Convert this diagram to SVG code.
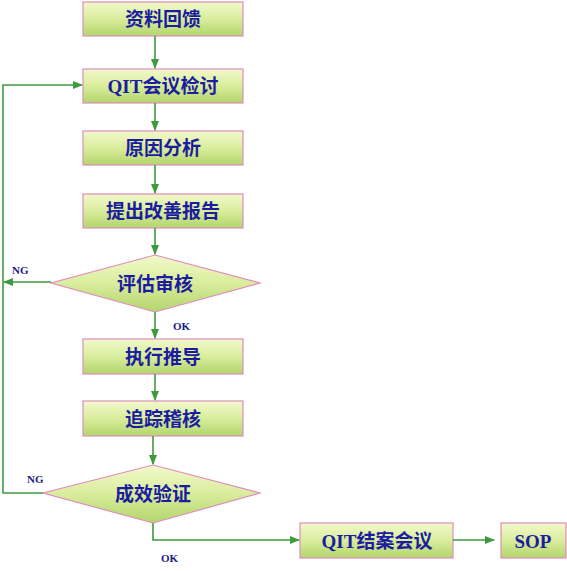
<svg xmlns="http://www.w3.org/2000/svg" width="567" height="571" viewBox="0 0 567 571">
<style>
.box{fill:url(#g);stroke:#e08cbc;stroke-width:1.2}
.t{font-family:"Liberation Serif","Noto Sans CJK SC",serif;font-size:19px;font-weight:bold;fill:#1c1ca0;text-anchor:middle}
.l{font-family:"Liberation Serif",serif;font-size:11px;font-weight:bold;fill:#1c1c80}
.c{fill:none;stroke:#3f9a3f;stroke-width:1.6}
</style>
<defs>
<linearGradient id="g" x1="0" y1="0" x2="0" y2="1">
<stop offset="0" stop-color="#f2f9cc"/>
<stop offset="0.5" stop-color="#d9ed9c"/>
<stop offset="1" stop-color="#b2d56c"/>
</linearGradient>
<marker id="a" markerWidth="10" markerHeight="8" refX="9" refY="4" orient="auto" markerUnits="userSpaceOnUse">
<path d="M0,0 L10,4 L0,8 z" fill="#3f9a3f"/>
</marker>
</defs>
<g id="n1"><rect class="box" x="83" y="2" width="160" height="34"/><text class="t" x="163" y="26">资料回馈</text></g>
<g id="n2"><rect class="box" x="83" y="69" width="160" height="34"/><text class="t" x="163" y="93">QIT会议检讨</text></g>
<g id="n3"><rect class="box" x="83" y="131" width="160" height="34"/><text class="t" x="163" y="155">原因分析</text></g>
<g id="n4"><rect class="box" x="83" y="194" width="160" height="34"/><text class="t" x="163" y="218">提出改善报告</text></g>
<g id="n5"><polygon class="box" points="155,255 260,283 155,312 51,283"/><text class="t" x="155" y="291">评估审核</text></g>
<g id="n6"><rect class="box" x="83" y="339" width="160" height="35"/><text class="t" x="163" y="364">执行推导</text></g>
<g id="n7"><rect class="box" x="83" y="401" width="160" height="35"/><text class="t" x="163" y="426">追踪稽核</text></g>
<g id="n8"><polygon class="box" points="153,465 260,493 153,523 43,493"/><text class="t" x="153" y="501">成效验证</text></g>
<g id="n9"><rect class="box" x="300" y="523" width="153" height="35"/><text class="t" x="377" y="548">QIT结案会议</text></g>
<g id="n10"><rect class="box" x="501" y="523" width="65" height="35"/><text class="t" x="533" y="548">SOP</text></g>
<g id="connectors">
<line class="c" x1="155" y1="36" x2="155" y2="68" marker-end="url(#a)"/>
<line class="c" x1="155" y1="103" x2="155" y2="130" marker-end="url(#a)"/>
<line class="c" x1="155" y1="165" x2="155" y2="193" marker-end="url(#a)"/>
<line class="c" x1="155" y1="228" x2="155" y2="254" marker-end="url(#a)"/>
<line class="c" x1="155" y1="312" x2="155" y2="338" marker-end="url(#a)"/>
<line class="c" x1="155" y1="374" x2="155" y2="400" marker-end="url(#a)"/>
<line class="c" x1="153" y1="436" x2="153" y2="464" marker-end="url(#a)"/>
<line class="c" x1="51" y1="282" x2="4" y2="282" marker-end="url(#a)"/>
<polyline class="c" points="43,493 3,493 3,85 82,85" marker-end="url(#a)"/>
<polyline class="c" points="153,523 153,540 299,540" marker-end="url(#a)"/>
<line class="c" x1="453" y1="540" x2="494" y2="540" marker-end="url(#a)"/>
<text class="l" x="12" y="274">NG</text>
<text class="l" x="173" y="330">OK</text>
<text class="l" x="27" y="483">NG</text>
<text class="l" x="161" y="562">OK</text>
</g>
</svg>
